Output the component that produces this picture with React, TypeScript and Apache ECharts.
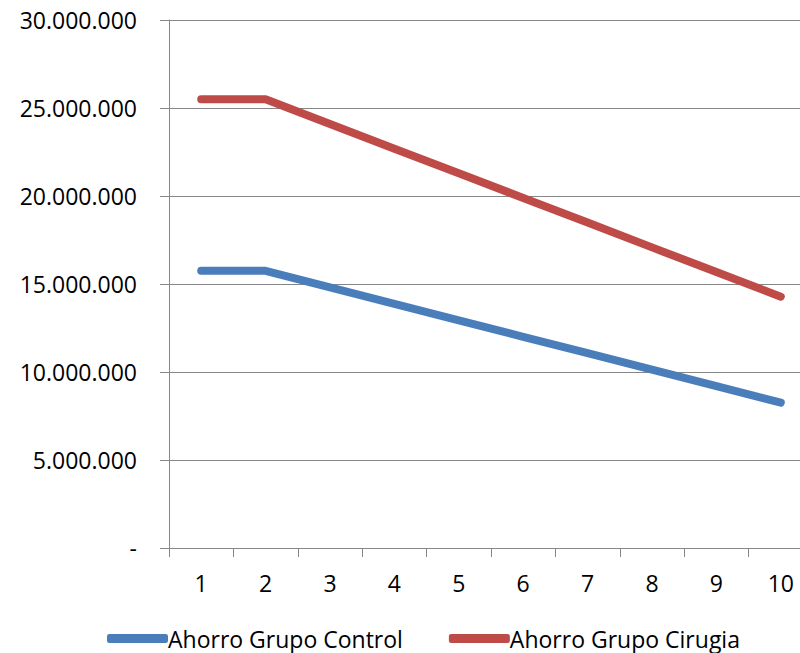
import React, { useEffect, useRef } from "react";
import * as echarts from "echarts";

const categories = ["1", "2", "3", "4", "5", "6", "7", "8", "9", "10"];
const ahorroControl = [15750000, 15750000, 14810000, 13870000, 12940000, 12000000, 11070000, 10130000, 9200000, 8260000];
const ahorroCirugia = [25500000, 25500000, 24090000, 22690000, 21290000, 19890000, 18490000, 17080000, 15680000, 14280000];
const seriesNames = ["Ahorro Grupo Control", "Ahorro Grupo Cirugia"];

const FONT = "'Open Sans', 'Liberation Sans', sans-serif";

function fmt(v: number): string {
  if (v === 0) return "-";
  return String(Math.round(v)).replace(/\B(?=(\d{3})+(?!\d))/g, ".");
}

export default function App() {
  const ref = useRef<HTMLDivElement>(null);
  useEffect(() => {
    if (!ref.current) return;
    const chart = echarts.init(ref.current, null, { renderer: "svg" });
    chart.setOption({
      animation: false,
      backgroundColor: "#ffffff",
      grid: { left: 169, right: 7, top: 20, bottom: 105, containLabel: false },
      legend: {
        data: seriesNames,
        left: 102,
        top: 622,
        icon: "roundRect",
        itemWidth: 61,
        itemHeight: 9,
        itemGap: 46,
        textStyle: { fontFamily: FONT, fontSize: 23, color: "#000", padding: [0, 0, 0, -5] },
      },
      xAxis: {
        type: "category",
        data: categories,
        boundaryGap: true,
        axisLine: { show: true, lineStyle: { color: "#868686", width: 1 } },
        axisTick: { show: true, length: 9, alignWithLabel: false, lineStyle: { color: "#868686" } },
        axisLabel: { fontFamily: FONT, fontSize: 23, color: "#000", margin: 23 },
        splitLine: { show: false },
      },
      yAxis: {
        type: "value",
        min: 0,
        max: 30000000,
        interval: 5000000,
        axisLine: { show: true, lineStyle: { color: "#868686", width: 1 } },
        axisTick: { show: true, length: 9, inside: false, lineStyle: { color: "#868686" } },
        axisLabel: { fontFamily: FONT, fontSize: 23, color: "#000", margin: 32, formatter: fmt },
        splitLine: { show: true, lineStyle: { color: "#868686", width: 1 } },
      },
      series: [
        {
          name: seriesNames[0],
          type: "line",
          data: ahorroControl,
          symbol: "none",
          color: "#4A7EBB",
          lineStyle: { width: 8, color: "#4A7EBB", cap: "round", join: "round" },
        },
        {
          name: seriesNames[1],
          type: "line",
          data: ahorroCirugia,
          symbol: "none",
          color: "#BE4B48",
          lineStyle: { width: 8, color: "#BE4B48", cap: "round", join: "round" },
        },
      ],
    });
    return () => chart.dispose();
  }, []);
  return (
    <div style={{ position: "fixed", left: 0, top: 0, width: 800, height: 653, overflow: "hidden", background: "#fff" }}>
      <div ref={ref} style={{ width: 820, height: 653 }} />
    </div>
  );
}
